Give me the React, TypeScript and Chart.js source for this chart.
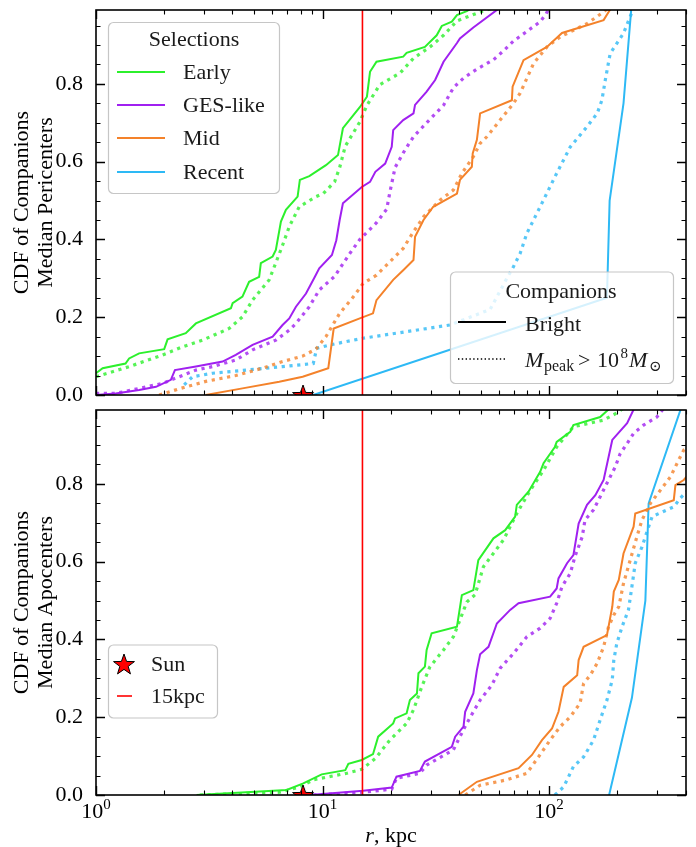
import React, { useEffect, useRef } from 'react';
import { Chart, registerables } from 'chart.js';

Chart.register(...registerables);

const SERIF = '"Liberation Serif", "DejaVu Serif", serif';

// ---- Pericenter CDFs: [r (kpc), cumulative fraction] ----
const periEarlyBright: [number, number][] = [
  [1.0, 0.056], [1.07, 0.069], [1.35, 0.081], [1.4, 0.094], [1.55, 0.107], [2.0, 0.118], [2.07, 0.143],
  [2.49, 0.159], [2.76, 0.184], [3.94, 0.223], [4.01, 0.236], [4.43, 0.253], [4.74, 0.291], [5.25, 0.304],
  [5.34, 0.339], [6.02, 0.356], [6.22, 0.373], [6.55, 0.446], [6.89, 0.476], [7.76, 0.51], [7.94, 0.553],
  [8.74, 0.563], [10.35, 0.591], [11.7, 0.617], [12.3, 0.686], [14.6, 0.74], [15.7, 0.767], [16.2, 0.831],
  [17.3, 0.857], [22.7, 0.87], [23.5, 0.88], [28.3, 0.895], [31.9, 0.925], [33.6, 0.949], [37.2, 0.96],
  [39.2, 0.977], [43.3, 0.987], [47.1, 1.0],
];
const periEarlyMassive: [number, number][] = [
  [1.0, 0.047], [1.4, 0.073], [1.97, 0.103], [2.41, 0.124], [2.95, 0.141], [3.87, 0.171], [4.43, 0.201],
  [4.91, 0.244], [5.81, 0.296], [6.22, 0.34], [6.66, 0.385], [7.13, 0.433], [7.89, 0.484], [9.35, 0.51],
  [10.07, 0.518], [11.3, 0.548], [11.9, 0.585], [12.6, 0.64], [14.6, 0.702], [15.7, 0.745], [17.9, 0.798],
  [22.0, 0.828], [25.2, 0.866], [29.8, 0.895], [34.2, 0.925], [39.2, 0.962], [49.6, 0.985], [60.0, 1.0],
];
const periGesBright: [number, number][] = [
  [1.0, 0.0], [1.22, 0.004], [1.55, 0.013], [1.84, 0.021], [2.14, 0.039], [2.23, 0.064], [2.76, 0.073],
  [3.62, 0.086], [4.14, 0.103], [4.91, 0.129], [6.02, 0.15], [6.66, 0.18], [7.13, 0.197], [7.63, 0.227],
  [8.45, 0.261], [9.25, 0.304], [9.67, 0.326], [11.0, 0.36], [11.5, 0.398], [11.9, 0.45], [12.3, 0.493],
  [14.9, 0.535], [16.2, 0.548], [17.1, 0.574], [18.9, 0.595], [20.2, 0.638], [20.5, 0.681], [22.7, 0.707],
  [25.2, 0.724], [25.6, 0.746], [28.8, 0.78], [31.4, 0.81], [34.2, 0.857], [39.2, 0.905], [40.4, 0.917],
  [46.3, 0.945], [62.0, 1.0],
];
const periGesMassive: [number, number][] = [
  [1.0, 0.004], [1.22, 0.004], [1.55, 0.017], [1.97, 0.03], [2.33, 0.047], [2.76, 0.064], [3.27, 0.073],
  [4.14, 0.09], [4.91, 0.116], [6.22, 0.141], [7.13, 0.167], [7.63, 0.184], [8.74, 0.227], [9.67, 0.27],
  [11.3, 0.305], [11.9, 0.325], [13.2, 0.364], [14.6, 0.4], [17.3, 0.443], [19.2, 0.478], [19.8, 0.52],
  [20.9, 0.585], [23.1, 0.63], [25.2, 0.664], [28.8, 0.7], [34.2, 0.745], [37.8, 0.79], [41.9, 0.815],
  [48.0, 0.838], [56.8, 0.862], [62.9, 0.885], [69.6, 0.91], [79.8, 0.935], [91.4, 0.96], [97.0, 0.98],
  [101, 1.0],
];
const periMidBright: [number, number][] = [
  [3.05, 0.0], [4.43, 0.017], [6.44, 0.034], [8.17, 0.047], [10.6, 0.069], [11.2, 0.171], [14.6, 0.197],
  [16.7, 0.21], [17.3, 0.244], [20.5, 0.296], [22.7, 0.321], [25.2, 0.347], [25.6, 0.407], [27.9, 0.45],
  [30.8, 0.484], [39.2, 0.518], [40.4, 0.553], [45.6, 0.587], [46.0, 0.621], [48.0, 0.656], [49.6, 0.724],
  [68.5, 0.758], [69.0, 0.793], [77.1, 0.861], [97.8, 0.895], [114, 0.931], [174, 0.964], [190, 1.0],
];
const periMidMassive: [number, number][] = [
  [1.9, 0.0], [2.3, 0.015], [3.05, 0.035], [4.14, 0.05], [5.44, 0.069], [6.66, 0.086], [8.17, 0.1],
  [9.35, 0.118], [10.35, 0.15], [11.3, 0.188], [11.9, 0.21], [13.7, 0.253], [15.1, 0.287], [17.3, 0.308],
  [20.5, 0.351], [22.7, 0.377], [25.2, 0.42], [27.9, 0.458], [33.0, 0.501], [37.8, 0.527], [41.2, 0.57],
  [46.3, 0.613], [49.6, 0.647], [53.1, 0.664], [60.8, 0.707], [69.6, 0.75], [74.5, 0.776], [85.3, 0.852],
  [97.8, 0.895], [112, 0.921], [147, 0.955], [174, 0.985], [186, 1.0],
];
const periRecentBright: [number, number][] = [
  [9.1, 0.0], [180, 0.25], [185, 0.5], [213, 0.75], [231, 1.0],
];
const periRecentMassive: [number, number][] = [
  [2.45, 0.026], [2.67, 0.047], [3.27, 0.056], [4.59, 0.064], [6.66, 0.073], [9.1, 0.081], [9.42, 0.12],
  [10.8, 0.129], [15.1, 0.146], [21.2, 0.159], [36.5, 0.18], [54.9, 0.22], [65.1, 0.3], [69.6, 0.33],
  [74.5, 0.364], [79.8, 0.416], [91.3, 0.484], [108, 0.57], [124, 0.638], [147, 0.69], [163, 0.724],
  [171, 0.758], [177, 0.81], [186, 0.878], [213, 0.93], [238, 1.0],
];

// ---- Apocenter CDFs: [r (kpc), cumulative fraction] ----
const apoEarlyBright: [number, number][] = [
  [2.78, 0.0], [6.94, 0.013], [8.22, 0.03], [9.91, 0.053], [12.6, 0.064], [13.0, 0.08], [14.9, 0.09],
  [16.7, 0.105], [17.6, 0.15], [20.5, 0.184], [20.9, 0.197], [23.5, 0.21], [24.3, 0.244], [26.1, 0.261],
  [26.5, 0.313], [28.3, 0.33], [28.8, 0.373], [30.3, 0.416], [39.2, 0.433], [41.2, 0.514], [46.3, 0.527],
  [48.7, 0.604], [56.8, 0.66], [64.0, 0.681], [70.8, 0.716], [72.0, 0.746], [81.1, 0.78], [91.3, 0.831],
  [94.5, 0.853], [106, 0.895], [108, 0.908], [124, 0.934], [128, 0.951], [168, 0.972], [190, 1.0],
];
const apoEarlyMassive: [number, number][] = [
  [2.87, 0.0], [6.47, 0.007], [7.94, 0.021], [9.1, 0.039], [12.8, 0.056], [14.9, 0.066], [17.1, 0.094],
  [19.8, 0.141], [23.5, 0.184], [25.2, 0.219], [27.4, 0.278], [29.8, 0.33], [34.2, 0.373], [37.8, 0.407],
  [40.4, 0.45], [43.3, 0.496], [47.1, 0.515], [51.3, 0.587], [62.9, 0.656], [72.0, 0.724], [82.7, 0.784],
  [94.5, 0.835], [108, 0.895], [128, 0.947], [174, 0.964], [203, 0.985], [217, 1.0],
];
const apoGesBright: [number, number][] = [
  [8.79, 0.0], [15.1, 0.011], [20.2, 0.019], [21.2, 0.047], [26.9, 0.062], [28.3, 0.086], [37.2, 0.124],
  [38.5, 0.15], [41.9, 0.176], [42.6, 0.214], [46.3, 0.261], [48.0, 0.321], [49.6, 0.362], [54.0, 0.381],
  [58.8, 0.441], [67.3, 0.476], [73.3, 0.493], [101, 0.51], [108, 0.531], [110, 0.557], [120, 0.596],
  [128, 0.617], [135, 0.698], [147, 0.746], [160, 0.771], [174, 0.81], [190, 0.913], [221, 0.956],
  [240, 1.0],
];
const apoGesMassive: [number, number][] = [
  [9.1, 0.0], [15.1, 0.007], [20.2, 0.015], [21.2, 0.043], [26.9, 0.056], [28.8, 0.077], [37.8, 0.116],
  [40.4, 0.15], [43.3, 0.184], [46.3, 0.214], [49.6, 0.244], [55.9, 0.283], [60.8, 0.326], [69.6, 0.364],
  [79.8, 0.407], [91.3, 0.429], [101, 0.454], [108, 0.493], [114, 0.536], [124, 0.57], [130, 0.613],
  [140, 0.664], [144, 0.707], [157, 0.733], [168, 0.767], [183, 0.81], [196, 0.844], [206, 0.878],
  [221, 0.904], [236, 0.93], [261, 0.951], [299, 0.972], [326, 1.0],
];
const apoMidBright: [number, number][] = [
  [39.8, 0.0], [48.0, 0.034], [73.3, 0.069], [84.0, 0.103], [93.0, 0.141], [103, 0.171], [110, 0.214],
  [116, 0.278], [133, 0.308], [135, 0.347], [142, 0.381], [180, 0.411], [190, 0.484], [193, 0.523],
  [203, 0.553], [213, 0.621], [236, 0.69], [240, 0.724], [355, 0.758], [361, 0.797], [393, 0.81],
  [420, 0.83],
];
const apoMidMassive: [number, number][] = [
  [42.6, 0.0], [49.6, 0.025], [65.1, 0.039], [79.8, 0.056], [89.8, 0.098], [101, 0.141], [112, 0.176],
  [124, 0.201], [137, 0.236], [142, 0.287], [152, 0.308], [163, 0.339], [174, 0.381], [183, 0.433],
  [193, 0.463], [203, 0.484], [213, 0.544], [228, 0.604], [244, 0.664], [257, 0.707], [280, 0.75],
  [310, 0.784], [343, 0.818], [373, 0.861], [393, 0.887], [420, 0.9],
];
const apoRecentBright: [number, number][] = [
  [184, 0.0], [232, 0.25], [266, 0.5], [275, 0.75], [385, 1.0],
];
const apoRecentMassive: [number, number][] = [
  [106, 0.0], [116, 0.021], [128, 0.073], [142, 0.098], [157, 0.141], [168, 0.193], [180, 0.244],
  [190, 0.296], [193, 0.347], [199, 0.39], [210, 0.433], [224, 0.476], [232, 0.536], [240, 0.596],
  [257, 0.638], [275, 0.69], [285, 0.716], [355, 0.741], [379, 0.763], [420, 0.79],
];

// ---- Reference marks, axes, labels ----
const SUN_R = 8.2;
const CUT_R = 15;
const X_MIN = 1;
const X_MAX = 402;
const Y_MIN = 0;
const Y_MAX = 0.99;
const yTickValues = [0, 0.2, 0.4, 0.6, 0.8];
const xTickExponents = [0, 1, 2];
const selectionNames = ['Early', 'GES-like', 'Mid', 'Recent'];
const selectionColors = ['#2cf02c', '#a020f0', '#f4822a', '#2db9f5'];
const periTitle = ['CDF of Companions', 'Median Pericenters'];
const apoTitle = ['CDF of Companions', 'Median Apocenters'];

const PLOT_LEFT = 96;
const PLOT_TOP = 10;
const PLOT_BOTTOM = 395;

function withAlpha(hex: string, a: number) {
  const n = parseInt(hex.slice(1), 16);
  return `rgba(${(n >> 16) & 255},${(n >> 8) & 255},${n & 255},${a})`;
}

function makeStar(r: number) {
  const size = Math.ceil(r * 2 + 4);
  const c = document.createElement('canvas');
  c.width = size;
  c.height = size;
  const ctx = c.getContext('2d')!;
  const cx = size / 2;
  const cy = size / 2 + 1;
  ctx.beginPath();
  for (let i = 0; i < 10; i++) {
    const rad = i % 2 === 0 ? r : r * 0.4;
    const a = -Math.PI / 2 + (i * Math.PI) / 5;
    const px = cx + rad * Math.cos(a);
    const py = cy + rad * Math.sin(a);
    if (i === 0) ctx.moveTo(px, py);
    else ctx.lineTo(px, py);
  }
  ctx.closePath();
  ctx.fillStyle = '#ff0000';
  ctx.fill();
  ctx.lineJoin = 'miter';
  ctx.lineWidth = 1;
  ctx.strokeStyle = '#000';
  ctx.stroke();
  return c;
}

function curve(points: [number, number][], color: string, dotted: boolean, order: number) {
  return {
    data: points.map(([x, y]) => ({ x, y })),
    borderColor: dotted ? withAlpha(color, 0.8) : color,
    borderWidth: dotted ? 3.2 : 2,
    borderDash: dotted ? [3.2, 4.6] : [],
    borderCapStyle: 'butt' as const,
    pointRadius: 0,
    tension: 0,
    fill: false,
    order,
  };
}

function legendFrame(ctx: CanvasRenderingContext2D, x: number, y: number, w: number, h: number) {
  const r = 5;
  ctx.beginPath();
  ctx.moveTo(x + r, y);
  ctx.arcTo(x + w, y, x + w, y + h, r);
  ctx.arcTo(x + w, y + h, x, y + h, r);
  ctx.arcTo(x, y + h, x, y, r);
  ctx.arcTo(x, y, x + w, y, r);
  ctx.closePath();
  ctx.fillStyle = 'rgba(255,255,255,0.8)';
  ctx.fill();
  ctx.strokeStyle = '#c6c6c6';
  ctx.lineWidth = 1.2;
  ctx.stroke();
}

function font(size: number, italic = false) {
  return `${italic ? 'italic ' : ''}${size}px ${SERIF}`;
}

function drawFrameAndTicks(chart: any) {
  const { ctx, chartArea: a, scales } = chart;
  ctx.save();
  ctx.strokeStyle = '#000';
  // ticks on x (top and bottom, inward)
  for (let e = 0; e <= 2; e++) {
    for (let m = 1; m <= 9; m++) {
      const v = m * Math.pow(10, e);
      if (v < X_MIN || v > X_MAX) continue;
      const px = Math.round(scales.x.getPixelForValue(v)) + 0.5;
      const len = m === 1 ? 9 : 4.5;
      ctx.lineWidth = m === 1 ? 1.4 : 1.1;
      ctx.beginPath();
      ctx.moveTo(px, a.bottom);
      ctx.lineTo(px, a.bottom - len);
      ctx.moveTo(px, a.top);
      ctx.lineTo(px, a.top + len);
      ctx.stroke();
    }
  }
  // ticks on y (left and right, inward)
  for (let i = 0; i * 0.05 <= Y_MAX + 1e-9; i++) {
    const v = i * 0.05;
    const major = i % 4 === 0;
    const py = Math.round(scales.y.getPixelForValue(v)) + 0.5;
    const len = major ? 9 : 4.5;
    ctx.lineWidth = major ? 1.4 : 1.1;
    ctx.beginPath();
    ctx.moveTo(a.left, py);
    ctx.lineTo(a.left + len, py);
    ctx.moveTo(a.right, py);
    ctx.lineTo(a.right - len, py);
    ctx.stroke();
  }
  ctx.lineWidth = 1.6;
  ctx.strokeRect(a.left, a.top, a.right - a.left, a.bottom - a.top);
  ctx.restore();
}

function drawYTitle(ctx: CanvasRenderingContext2D, lines: string[], cy: number) {
  ctx.save();
  ctx.fillStyle = '#000';
  ctx.font = font(22);
  ctx.textAlign = 'center';
  ctx.textBaseline = 'middle';
  const xs = [22, 46];
  lines.forEach((t, i) => {
    ctx.save();
    ctx.translate(xs[i], cy);
    ctx.rotate(-Math.PI / 2);
    ctx.fillText(t, 0, 0);
    ctx.restore();
  });
  ctx.restore();
}

function drawSelectionsLegend(ctx: CanvasRenderingContext2D) {
  ctx.save();
  legendFrame(ctx, 108.5, 22.5, 171, 171);
  ctx.fillStyle = '#1a1a1a';
  ctx.font = font(22);
  ctx.textBaseline = 'middle';
  ctx.textAlign = 'center';
  ctx.fillText('Selections', 194, 40);
  ctx.textAlign = 'left';
  const ys = [72, 105, 138, 172];
  selectionNames.forEach((name, i) => {
    ctx.strokeStyle = selectionColors[i];
    ctx.lineWidth = 2;
    ctx.beginPath();
    ctx.moveTo(117, ys[i]);
    ctx.lineTo(165, ys[i]);
    ctx.stroke();
    ctx.fillText(name, 183, ys[i] + 1);
  });
  ctx.restore();
}

function drawCompanionsLegend(ctx: CanvasRenderingContext2D) {
  ctx.save();
  legendFrame(ctx, 450.5, 272, 223, 111.5);
  ctx.fillStyle = '#1a1a1a';
  ctx.font = font(22);
  ctx.textAlign = 'center';
  ctx.textBaseline = 'alphabetic';
  ctx.fillText('Companions', 561, 298);
  ctx.textAlign = 'left';
  ctx.fillText('Bright', 525, 331);
  ctx.strokeStyle = '#000';
  ctx.lineWidth = 2;
  ctx.beginPath();
  ctx.moveTo(458, 322);
  ctx.lineTo(506, 322);
  ctx.stroke();
  ctx.lineWidth = 1.4;
  ctx.setLineDash([1.4, 2.4]);
  ctx.beginPath();
  ctx.moveTo(458, 359);
  ctx.lineTo(506, 359);
  ctx.stroke();
  ctx.setLineDash([]);
  // M_peak > 10^8 M_sun
  const base = 366.5;
  ctx.font = font(22, true);
  ctx.fillText('M', 525, base);
  ctx.font = font(16);
  ctx.fillText('peak', 544, base + 4);
  ctx.font = font(22);
  ctx.fillText('>', 578, base);
  ctx.fillText('10', 597, base);
  ctx.font = font(15);
  ctx.fillText('8', 620.5, base - 9);
  ctx.font = font(22, true);
  ctx.fillText('M', 629, base);
  ctx.font = `15px "DejaVu Serif", "DejaVu Sans", serif`;
  ctx.fillText('\u2299', 649, base + 4);
  ctx.restore();
}

function drawSunLegend(ctx: CanvasRenderingContext2D, star: HTMLCanvasElement) {
  ctx.save();
  legendFrame(ctx, 108.5, 245, 109, 73);
  ctx.drawImage(star, Math.round(124 - star.width / 2), Math.round(264 - star.height / 2));
  ctx.strokeStyle = '#ff0000';
  ctx.lineWidth = 1.6;
  ctx.beginPath();
  ctx.moveTo(117, 296);
  ctx.lineTo(132, 296);
  ctx.stroke();
  ctx.fillStyle = '#1a1a1a';
  ctx.font = font(22);
  ctx.textAlign = 'left';
  ctx.textBaseline = 'middle';
  ctx.fillText('Sun', 151, 265);
  ctx.fillText('15kpc', 151, 297);
  ctx.restore();
}

function drawXLabels(chart: any) {
  const { ctx, scales } = chart;
  ctx.save();
  ctx.fillStyle = '#000';
  ctx.textBaseline = 'alphabetic';
  ctx.textAlign = 'left';
  const base = 418;
  xTickExponents.forEach((e) => {
    const px = scales.x.getPixelForValue(Math.pow(10, e));
    ctx.font = font(22);
    const wBase = ctx.measureText('10').width;
    ctx.font = font(15);
    const wExp = ctx.measureText(String(e)).width;
    const x0 = px - (wBase + wExp) / 2;
    ctx.font = font(22);
    ctx.fillText('10', x0, base);
    ctx.font = font(15);
    ctx.fillText(String(e), x0 + wBase, base - 9);
  });
  // axis title "r, kpc"
  ctx.font = font(22, true);
  const wr = ctx.measureText('r').width;
  ctx.font = font(22);
  const wrest = ctx.measureText(', kpc').width;
  const cx = (chart.chartArea.left + chart.chartArea.right) / 2;
  const x0 = cx - (wr + wrest) / 2;
  ctx.font = font(22, true);
  ctx.fillText('r', x0, 442);
  ctx.font = font(22);
  ctx.fillText(', kpc', x0 + wr, 442);
  ctx.restore();
}

function panelConfig(
  curves: [number, number][][],
  height: number,
  star: HTMLCanvasElement,
  decorate: (chart: any) => void,
  titleLines: string[],
) {
  const datasets: any[] = [];
  datasets.push({
    data: [{ x: SUN_R, y: 0 }],
    showLine: false,
    pointStyle: star,
    pointRadius: 11,
    clip: 0,
    order: 0,
  });
  datasets.push({
    data: [{ x: CUT_R, y: 0 }, { x: CUT_R, y: 1 }],
    borderColor: '#ff0000',
    borderWidth: 1.6,
    pointRadius: 0,
    order: 1,
  });
  selectionColors.forEach((color, i) => {
    datasets.push(curve(curves[i * 2], color, false, 2 + i * 2));
    datasets.push(curve(curves[i * 2 + 1], color, true, 3 + i * 2));
  });
  return {
    type: 'line' as const,
    data: { datasets },
    options: {
      animation: false as const,
      responsive: false,
      devicePixelRatio: 1,
      events: [],
      layout: { padding: { top: PLOT_TOP, right: 10, left: 0, bottom: 0 }, autoPadding: false },
      plugins: { legend: { display: false }, tooltip: { enabled: false }, title: { display: false } },
      scales: {
        x: {
          type: 'logarithmic' as const,
          min: X_MIN,
          max: X_MAX,
          grid: { display: false },
          border: { display: false },
          ticks: { display: false },
          afterFit: (s: any) => {
            s.height = height - PLOT_BOTTOM;
            s.paddingLeft = 0;
            s.paddingRight = 0;
            s.paddingTop = 0;
            s.paddingBottom = 0;
          },
        },
        y: {
          type: 'linear' as const,
          min: Y_MIN,
          max: Y_MAX,
          grid: { display: false },
          border: { display: false },
          afterBuildTicks: (s: any) => {
            s.ticks = yTickValues.map((v) => ({ value: v }));
          },
          ticks: {
            autoSkip: false,
            padding: 5,
            color: '#000',
            font: { family: SERIF, size: 22 },
            callback: (v: any) => Number(v).toFixed(1),
          },
          afterFit: (s: any) => {
            s.width = PLOT_LEFT;
            s.paddingTop = 0;
            s.paddingBottom = 0;
            s.paddingLeft = 0;
            s.paddingRight = 0;
          },
        },
      },
    },
    plugins: [
      {
        id: 'panelDecor',
        afterDatasetsDraw(chart: any) {
          decorate(chart);
        },
        afterDraw(chart: any) {
          drawFrameAndTicks(chart);
          drawYTitle(chart.ctx, titleLines, (PLOT_TOP + PLOT_BOTTOM) / 2);
        },
      },
    ],
  };
}

export default function App() {
  const topRef = useRef<HTMLCanvasElement>(null);
  const bottomRef = useRef<HTMLCanvasElement>(null);

  useEffect(() => {
    const star = makeStar(11);
    const top = new Chart(
      topRef.current!,
      panelConfig(
        [periEarlyBright, periEarlyMassive, periGesBright, periGesMassive, periMidBright, periMidMassive, periRecentBright, periRecentMassive],
        420,
        star,
        (chart) => {
          drawSelectionsLegend(chart.ctx);
          drawCompanionsLegend(chart.ctx);
        },
        periTitle,
      ) as any,
    );
    const bottom = new Chart(
      bottomRef.current!,
      panelConfig(
        [apoEarlyBright, apoEarlyMassive, apoGesBright, apoGesMassive, apoMidBright, apoMidMassive, apoRecentBright, apoRecentMassive],
        447,
        star,
        (chart) => {
          drawSunLegend(chart.ctx, star);
          drawXLabels(chart);
        },
        apoTitle,
      ) as any,
    );
    return () => {
      top.destroy();
      bottom.destroy();
    };
  }, []);

  return (
    <div style={{ position: 'absolute', left: 0, top: 0, width: 696, height: 847, background: '#ffffff' }}>
      <canvas ref={topRef} width={696} height={420} style={{ position: 'absolute', left: 0, top: 0 }} />
      <canvas ref={bottomRef} width={696} height={447} style={{ position: 'absolute', left: 0, top: 400 }} />
    </div>
  );
}
